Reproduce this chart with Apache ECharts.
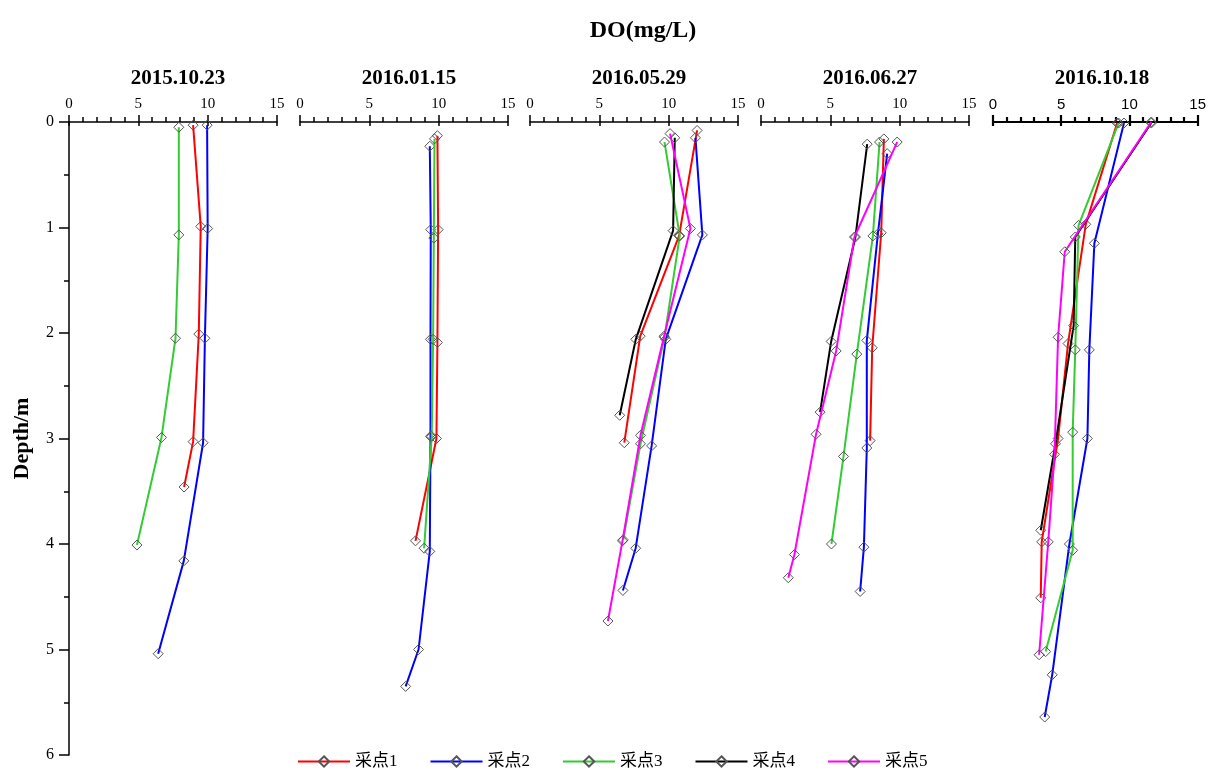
<!DOCTYPE html>
<html><head><meta charset="utf-8">
<script src="https://cdn.jsdelivr.net/npm/echarts@6/dist/echarts.min.js"></script>
<style>html,body{margin:0;padding:0;background:#fff}#c{width:1209px;height:773px}</style>
</head><body><div id="c"></div><script>
// ---- data ----
const dates = ['2015.10.23','2016.01.15','2016.05.29','2016.06.27','2016.10.18'];
const siteNames = ['采点1','采点2','采点3','采点4','采点5'];
const siteColors = ['#ff0000','#0000ff','#33cc33','#000000','#ff00ff'];
const xTickLabels = [0,5,10,15];
const depthTickLabels = [0,1,2,3,4,5,6];

// each point: [DO (mg/L), depth (m)]
// 2015.10.23
const p1_s1 = [[8.95,0.03],[9.5,0.99],[9.36,2.01],[8.95,3.03],[8.3,3.46]];
const p1_s2 = [[9.96,0.03],[10.0,1.01],[9.8,2.05],[9.67,3.04],[8.28,4.16],[6.43,5.04]];
const p1_s3 = [[7.92,0.05],[7.92,1.07],[7.68,2.05],[6.67,2.99],[4.9,4.01]];
// 2016.01.15
const p2_s1 = [[9.91,0.13],[9.96,1.02],[9.91,2.09],[9.84,3.0],[8.33,3.97]];
const p2_s2 = [[9.36,0.23],[9.43,1.02],[9.41,2.06],[9.41,2.98],[9.36,4.07],[8.55,5.0],[7.62,5.35]];
const p2_s3 = [[9.7,0.16],[9.65,1.1],[9.6,2.06],[9.5,2.98],[8.95,4.04]];
// 2016.05.29
const p3_s1 = [[12.05,0.08],[10.75,1.08],[7.95,2.03],[6.8,3.04]];
const p3_s2 = [[11.93,0.15],[12.43,1.07],[9.79,2.06],[8.77,3.07],[7.62,4.04],[6.7,4.44]];
const p3_s3 = [[9.7,0.19],[10.8,1.08],[9.7,2.04],[7.97,3.05],[6.72,3.96]];
const p3_s4 = [[10.44,0.15],[10.32,1.03],[7.63,2.06],[6.47,2.78]];
const p3_s5 = [[10.1,0.11],[11.57,1.01],[9.67,2.03],[7.97,2.97],[6.67,3.97],[5.62,4.73]];
// 2016.06.27
const p4_s1 = [[8.86,0.16],[8.67,1.05],[8.02,2.14],[7.87,3.02]];
const p4_s2 = [[9.1,0.3],[8.43,1.06],[7.63,2.07],[7.63,3.09],[7.42,4.03],[7.15,4.45]];
const p4_s3 = [[8.55,0.19],[8.07,1.08],[6.91,2.2],[5.95,3.17],[5.08,4.0]];
const p4_s4 = [[7.66,0.21],[6.81,1.09],[5.06,2.08],[4.26,2.75]];
const p4_s5 = [[9.82,0.19],[6.74,1.09],[5.42,2.17],[3.97,2.96],[2.41,4.1],[1.97,4.32]];
// 2016.10.18
const p5_s1 = [[9.1,0.01],[6.8,0.97],[5.5,2.1],[4.77,3.0],[3.57,3.98],[3.5,4.51]];
const p5_s2 = [[9.6,0.01],[7.43,1.15],[7.06,2.16],[6.92,3.0],[5.6,4.0],[4.34,5.24],[3.79,5.64]];
const p5_s3 = [[9.2,0.01],[6.27,0.98],[6.03,2.16],[5.84,2.94],[5.84,4.06],[3.86,5.02]];
const p5_s4 = [[11.6,0.01],[6.03,1.09],[5.91,1.93],[4.58,3.05],[3.5,3.87]];
const p5_s5 = [[11.6,0.0],[5.26,1.23],[4.77,2.04],[4.51,3.15],[4.05,3.98],[3.38,5.05]];

const panelData = [
  [p1_s1,p1_s2,p1_s3,null,null],
  [p2_s1,p2_s2,p2_s3,null,null],
  [p3_s1,p3_s2,p3_s3,p3_s4,p3_s5],
  [p4_s1,p4_s2,p4_s3,p4_s4,p4_s5],
  [p5_s1,p5_s2,p5_s3,p5_s4,p5_s5]
];

// ---- layout ----
const SERIF = "'Liberation Serif','Times New Roman',serif";
const SANS = "'Liberation Sans',Arial,sans-serif";
const gridLeft = [69,300,530,761,993];
const gridW = 208, gridTop = 122, gridH = 633;

const grids = [], xAxes = [], yAxes = [], series = [], titles = [];
titles.push({text:'DO(mg/L)', left:638, top:14, textAlign:'center',
  textStyle:{fontFamily:SERIF, fontWeight:'bold', fontSize:24, color:'#000'}});

dates.forEach((d,i)=>{
  grids.push({left:gridLeft[i], top:gridTop, width:gridW, height:gridH});
  titles.push({text:d, left:gridLeft[i]+gridW/2, top:63, textAlign:'center',
    textStyle:{fontFamily:SERIF, fontWeight:'bold', fontSize:21, color:'#000'}});
  const lw = i===4 ? 2.2 : 1.5;
  xAxes.push({
    gridIndex:i, type:'value', position:'top', min:0, max:15, interval:5,
    axisLine:{show:true, lineStyle:{color:'#000', width:lw}},
    axisTick:{show:true, inside:false, length:7, lineStyle:{color:'#000', width:lw}},
    minorTick:{show:true, splitNumber:5, length:5, lineStyle:{color:'#000', width:lw}},
    axisLabel:{show:true, margin:10, color:'#000', fontSize:i===4?15:15,
      fontFamily:i===4?SANS:SERIF,
      formatter:v=>xTickLabels.includes(v)?String(v):''},
    splitLine:{show:false}
  });
  xAxes.push({
    gridIndex:i, type:'value', position:'top', min:0, max:15, interval:5,
    axisLine:{show:false}, axisLabel:{show:false}, splitLine:{show:false},
    axisTick:{show:true, inside:true, length:4, lineStyle:{color:'#000', width:lw}}
  });
  yAxes.push({
    gridIndex:i, type:'value', inverse:true, min:0, max:6, interval:1,
    show: i===0,
    axisLine:{show:true, onZero:false, lineStyle:{color:'#000', width:1.5}},
    axisTick:{show:true, inside:false, length:10, lineStyle:{color:'#000', width:1.5}},
    minorTick:{show:true, splitNumber:2, length:5, lineStyle:{color:'#000', width:1.5}},
    axisLabel:{margin:15, color:'#000', fontSize:16, fontFamily:SERIF,
      formatter:v=>depthTickLabels.includes(v)?String(v):''},
    splitLine:{show:false},
    name: i===0 ? 'Depth/m' : '', nameLocation:'middle', nameGap:36,
    nameTextStyle:{fontFamily:SERIF, fontWeight:'bold', fontSize:22, color:'#000'}
  });
  panelData[i].forEach((arr,k)=>{
    if(!arr) return;
    series.push({
      type:'line', name:siteNames[k], xAxisIndex:2*i, yAxisIndex:i,
      data:arr, symbol:'diamond', symbolSize:10, showAllSymbol:true,
      color:siteColors[k],
      lineStyle:{color:siteColors[k], width:2},
      itemStyle:{color:'rgba(255,255,255,0)', borderColor:'#555', borderWidth:1},
      emphasis:{disabled:true}, silent:true, z:2+k
    });
  });
});

const chart = echarts.init(document.getElementById('c'), null, {renderer:'canvas'});
chart.setOption({
  animation:false, backgroundColor:'#fff',
  title:titles, grid:grids, xAxis:xAxes, yAxis:yAxes, series:series,
  legend:{data:siteNames, left:297, top:753, padding:0, itemWidth:52, itemHeight:13, itemGap:32,
    textStyle:{fontSize:17, color:'#000', fontFamily:"'Liberation Serif','Noto Sans CJK SC',serif"}}
});
</script></body></html>
